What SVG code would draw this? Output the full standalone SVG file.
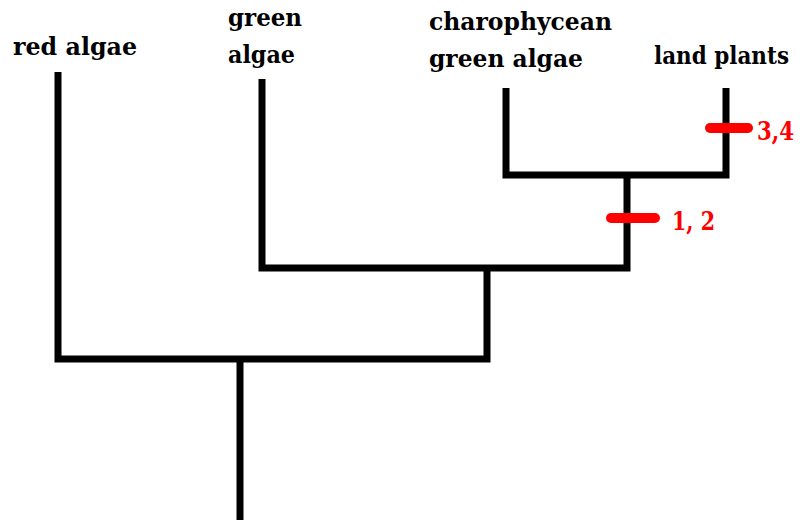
<svg xmlns="http://www.w3.org/2000/svg" width="801" height="523" viewBox="0 0 801 523">
<style>
.lbl{font-family:"DejaVu Serif","Liberation Serif",serif;font-weight:bold;font-size:25px;fill:#000}
.mk{font-family:"DejaVu Serif","Liberation Serif",serif;font-weight:bold;font-size:26px;fill:#ff0000}
.br{fill:none;stroke:#000;stroke-width:7;stroke-linejoin:miter;stroke-linecap:butt}
.tick{stroke:#ff0000;stroke-width:10;stroke-linecap:round}
</style>
<rect width="801" height="523" fill="#fff"/>
<g id="connectors">
<path class="br" d="M58,72 V359 H487 V268"/>
<path class="br" d="M262,79 V268 H627 V175"/>
<path class="br" d="M506,88 V175 H726 V88"/>
<path class="br" d="M240,359 V520"/>
</g>
<g id="red-algae"><text class="lbl" x="13" y="55" textLength="124" lengthAdjust="spacingAndGlyphs">red algae</text></g>
<g id="green-algae"><text class="lbl" x="228" y="26" textLength="74" lengthAdjust="spacingAndGlyphs">green</text><text class="lbl" x="228" y="63" textLength="67" lengthAdjust="spacingAndGlyphs">algae</text></g>
<g id="charophycean"><text class="lbl" x="429" y="30" textLength="183" lengthAdjust="spacingAndGlyphs">charophycean</text><text class="lbl" x="429" y="67" textLength="154" lengthAdjust="spacingAndGlyphs">green algae</text></g>
<g id="land-plants"><text class="lbl" x="654" y="64" textLength="135" lengthAdjust="spacingAndGlyphs">land plants</text></g>
<g id="marker-34"><line class="tick" x1="710" y1="128" x2="748" y2="128"/><text class="mk" x="757" y="140" textLength="37" lengthAdjust="spacingAndGlyphs">3,4</text></g>
<g id="marker-12"><line class="tick" x1="611" y1="218" x2="655" y2="218"/><text class="mk" x="672" y="230" textLength="43" lengthAdjust="spacingAndGlyphs">1, 2</text></g>
</svg>
